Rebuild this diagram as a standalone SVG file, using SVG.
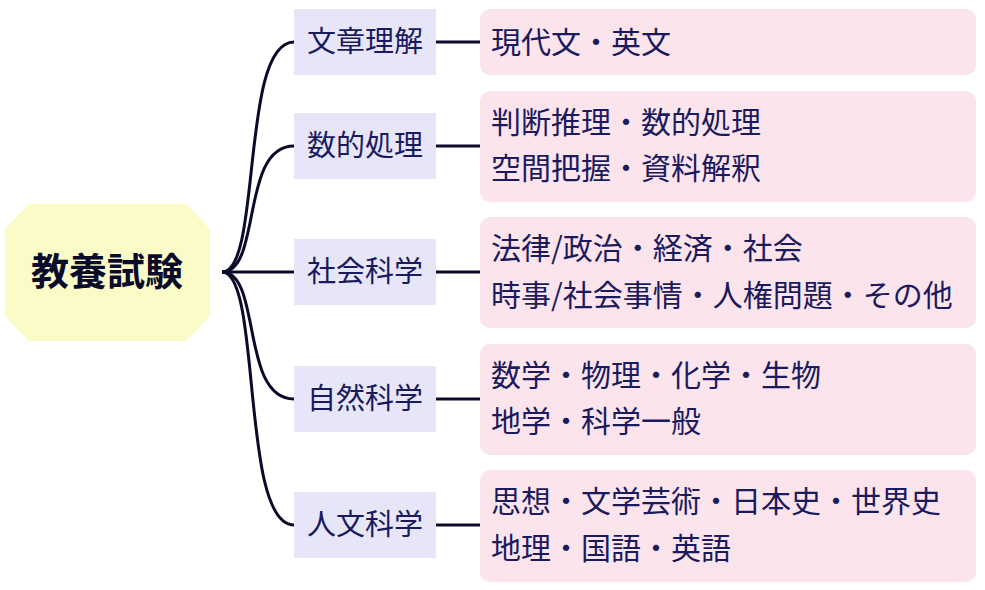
<svg xmlns="http://www.w3.org/2000/svg" width="985" height="590" viewBox="0 0 985 590">
<style>
.cat{fill:#e6e6f8}
.det{fill:#fce4ec}
.t{font-family:"Noto Sans CJK JP","Noto Sans",sans-serif;fill:#1a1a5e;font-size:30px}
.c{font-family:"Noto Sans CJK JP","Noto Sans",sans-serif;fill:#1a1a5e;font-size:29px;text-anchor:middle}
.ln{fill:none;stroke:#0a0a2a;stroke-width:3}
</style>
<rect width="985" height="590" fill="#fff"/>
<g id="connectors">
<path class="ln" d="M222,272 C262,272 240,42 294,42"/>
<path class="ln" d="M222,272 C262,272 240,146 294,146"/>
<path class="ln" d="M222,272 L294,272"/>
<path class="ln" d="M222,272 C262,272 240,399 294,399"/>
<path class="ln" d="M222,272 C262,272 240,525 294,525"/>
<path class="ln" d="M436,42 H480 M436,146 H480 M436,272 H480 M436,399 H480 M436,525 H480"/>
</g>
<g id="root">
<polygon points="30,207 185,207 207,230 207,315 185,338 30,338 8,315 8,230" fill="#fbfbc8" stroke="#fbfbc8" stroke-width="6" stroke-linejoin="round"/>
<text x="107" y="285" font-family="Noto Sans CJK JP,sans-serif" font-weight="bold" font-size="38" fill="#0a0a2a" text-anchor="middle">教養試験</text>
</g>
<g id="c1"><rect class="cat" x="294" y="9" width="142" height="66"/><text class="c" x="365" y="52">文章理解</text></g>
<g id="c2"><rect class="cat" x="294" y="113" width="142" height="66"/><text class="c" x="365" y="156">数的処理</text></g>
<g id="c3"><rect class="cat" x="294" y="239" width="142" height="66"/><text class="c" x="365" y="282">社会科学</text></g>
<g id="c4"><rect class="cat" x="294" y="366" width="142" height="66"/><text class="c" x="365" y="409">自然科学</text></g>
<g id="c5"><rect class="cat" x="294" y="492" width="142" height="66"/><text class="c" x="365" y="535">人文科学</text></g>
<g id="d1"><rect class="det" x="480" y="9" width="496" height="66" rx="10"/><text class="t" x="491" y="53">現代文・英文</text></g>
<g id="d2"><rect class="det" x="480" y="91" width="496" height="111" rx="10"/><text class="t" x="491" y="133">判断推理・数的処理</text><text class="t" x="491" y="179">空間把握・資料解釈</text></g>
<g id="d3"><rect class="det" x="480" y="217" width="496" height="111" rx="10"/><text class="t" x="491" y="259">法律/政治・経済・社会</text><text class="t" x="491" y="306">時事/社会事情・人権問題・その他</text></g>
<g id="d4"><rect class="det" x="480" y="344" width="496" height="111" rx="10"/><text class="t" x="491" y="386">数学・物理・化学・生物</text><text class="t" x="491" y="432">地学・科学一般</text></g>
<g id="d5"><rect class="det" x="480" y="470" width="496" height="112" rx="10"/><text class="t" x="491" y="512">思想・文学芸術・日本史・世界史</text><text class="t" x="491" y="559">地理・国語・英語</text></g>
</svg>
